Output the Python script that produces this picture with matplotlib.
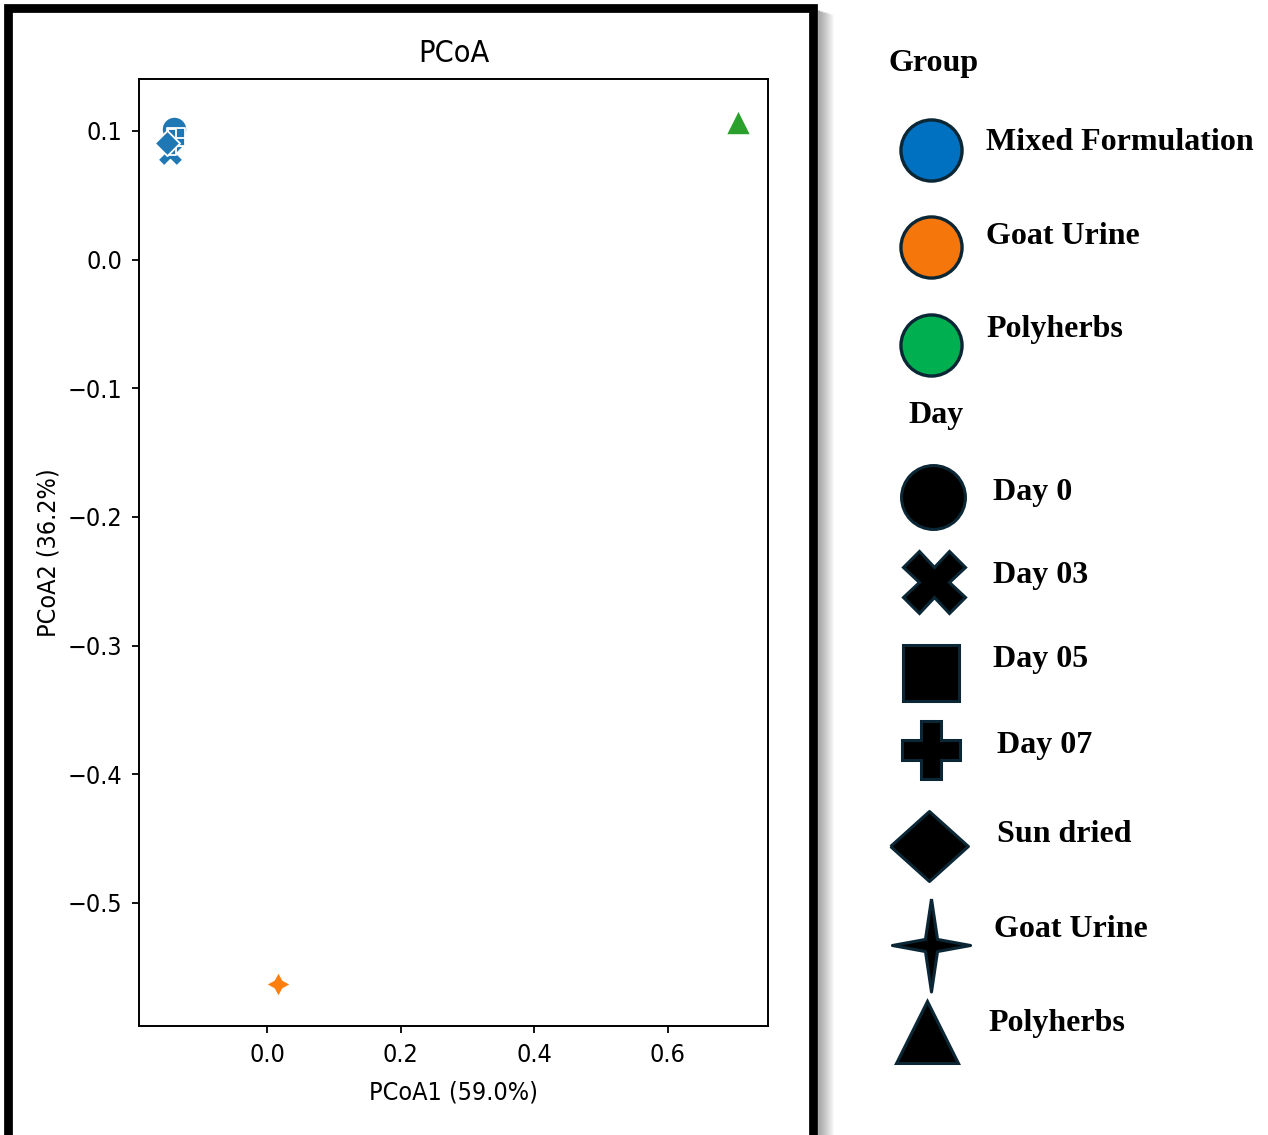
import numpy as np
import matplotlib
matplotlib.use("Agg")
import matplotlib.pyplot as plt

# ---------------------------------------------------------------------
# PCoA coordinates
# ---------------------------------------------------------------------
groups = ["Mixed Formulation", "Mixed Formulation", "Mixed Formulation",
          "Mixed Formulation", "Mixed Formulation", "Goat Urine", "Polyherbs"]
days = ["Day 0", "Day 03", "Day 05", "Day 07", "Sun dried", "Goat Urine", "Polyherbs"]
pc1 = [-0.139, -0.145, -0.136, -0.142, -0.150, 0.016, 0.705]
pc2 = [0.1017, 0.0829, 0.0953, 0.0914, 0.0907, -0.563, 0.107]

x_ticks = [0.0, 0.2, 0.4, 0.6]
y_ticks = [0.1, 0.0, -0.1, -0.2, -0.3, -0.4, -0.5]

group_names = ["Mixed Formulation", "Goat Urine", "Polyherbs"]
group_colors = ["#1f77b4", "#ff7f0e", "#2ca02c"]          # plot colours
legend_colors = ["#0070C0", "#F5760B", "#00B050"]         # legend swatches

day_names = ["Day 0", "Day 03", "Day 05", "Day 07", "Sun dried", "Goat Urine", "Polyherbs"]
day_markers = ["o", "X", (4, 0, 45), "P", (4, 0, 0), (4, 1, 0), "^"]

# legend glyphs (wider diamond, slim tall star like the reference panel)
star_verts = [(0, 1), (0.13, 0.13), (0.84, 0), (0.13, -0.13), (0, -1),
              (-0.13, -0.13), (-0.84, 0), (-0.13, 0.13), (0, 1)]
diamond_verts = [(-1, 0), (0, 0.9), (1, 0), (0, -0.9), (-1, 0)]
legend_markers = ["o", "X", "s", "P", diamond_verts, star_verts, "^"]
legend_msizes = [46, 44, 41, 42, 56, 67, 45]

EDGE = "#0B2735"
W, H = 1268, 1135

fig = plt.figure(figsize=(W / 100, H / 100), dpi=100)

# ---------------------------------------------------------------------
# scatter panel
# ---------------------------------------------------------------------
ax = fig.add_axes([139 / W, 1 - 1026 / H, (768 - 139) / W, (1026 - 79) / H])
for x, y, g, d in zip(pc1, pc2, groups, days):
    ax.scatter(x, y, s=330, marker=day_markers[day_names.index(d)],
               color=group_colors[group_names.index(g)],
               edgecolor="white", linewidth=1.3, zorder=3)

ax.set_xlim(-0.1916, 0.750)
ax.set_ylim(-0.5957, 0.1404)
ax.set_xticks(x_ticks)
ax.set_yticks(y_ticks)
ax.set_xticklabels([f"{t:.1f}" for t in x_ticks])
ax.set_yticklabels([f"{t:.1f}".replace("-", "\u2212") for t in y_ticks])
ax.tick_params(labelsize=18, length=5, width=1.3, pad=7)
for s in ax.spines.values():
    s.set_linewidth(1.4)
ax.set_title("PCoA", fontsize=22, pad=12)
ax.set_xlabel("PCoA1 (59.0%)", fontsize=18, labelpad=10)
ax.set_ylabel("PCoA2 (36.2%)", fontsize=18, labelpad=5)
for t in ax.get_xticklabels() + ax.get_yticklabels() + [ax.title, ax.xaxis.label, ax.yaxis.label]:
    t.set_fontstretch("condensed")

# ---------------------------------------------------------------------
# overlay in pixel coordinates: frame + hand-made legend panel
# ---------------------------------------------------------------------
ov = fig.add_axes([0, 0, 1, 1], facecolor="none")
ov.set_xlim(0, W)
ov.set_ylim(H, 0)
ov.axis("off")

# drop shadow on the right of the frame
for i in range(16):
    ov.plot([818 + i, 818 + i], [10 + i * 0.3, H + 5], color="black",
            alpha=0.28 * (1 - i / 16), lw=1.0, solid_capstyle="butt")
ov.plot([8, 8, 812.5, 812.5], [H + 20, 8, 8, H + 20], color="black", lw=6.3,
        solid_joinstyle="miter")

serif = dict(family="Liberation Serif", fontweight="bold", fontsize=23, va="baseline")

ov.text(889, 71, "Group", **serif)
g_y = [150, 247, 345]
g_text_y = [150, 244, 337]
for name, col, yc, yt in zip(group_names, legend_colors, g_y, g_text_y):
    ov.plot(931, yc, marker="o", ms=44, color=col, mec=EDGE, mew=2.4)
    ov.text(986, yt, name, **serif)

ov.text(908, 423, "Day", **serif)
d_x = [933, 934, 931, 931, 929, 931, 927]
d_y = [497, 582, 673, 750, 846, 945, 1032]
d_text_x = [993, 993, 993, 997, 997, 994, 988]
d_text_y = [500, 583, 667, 753, 842, 937, 1031]
for name, mk, ms, xm, ym, xt, yt in zip(day_names, legend_markers, legend_msizes,
                                         d_x, d_y, d_text_x, d_text_y):
    ov.plot(xm, ym, marker=mk, ms=ms, color="black", mec=EDGE, mew=2.2)
    ov.text(xt, yt, name, **serif)

fig.savefig("out.png", dpi=100)
